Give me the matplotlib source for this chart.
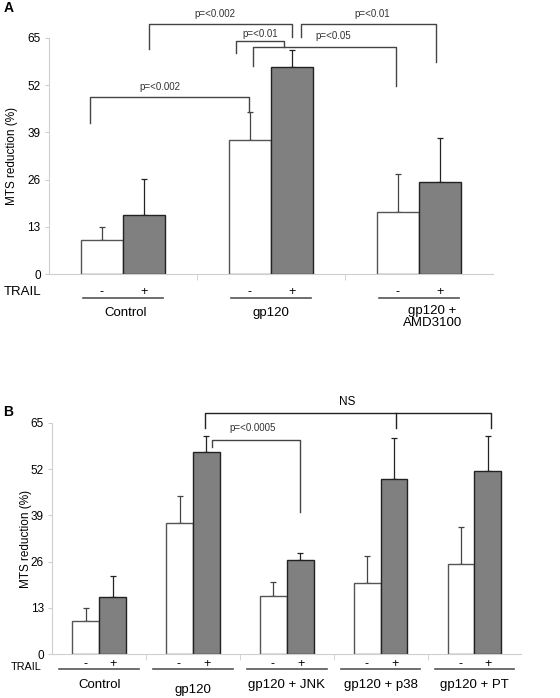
"""MTS reduction bar charts, panels A and B."""
import matplotlib
matplotlib.use("Agg")
import matplotlib.pyplot as plt
import numpy as np

plt.rcParams["font.family"] = ["Liberation Sans", "DejaVu Sans"]

# panel A data
groups_a = ["Control", "gp120", "gp120 +\nAMD3100"]
minus_a = [9.3, 37.0, 17.0]
minus_err_a = [3.6, 7.7, 10.6]
plus_a = [16.2, 56.9, 25.3]
plus_err_a = [9.9, 4.8, 12.1]
# (x_left, y_left_end, x_right, y_right_end, y_top, label)
brackets_a = [
    (-0.223, 41.6, 0.853, 44.7, 48.7, "p=<0.002"),
    (0.766, 60.7, 1.088, 62.4, 64.0, "p=<0.01"),
    (0.876, 57.1, 1.845, 51.7, 62.4, "p=<0.05"),
    (0.176, 61.8, 1.144, 65.2, 68.8, "p=<0.002"),
    (1.201, 65.2, 2.115, 58.4, 68.8, "p=<0.01"),
]
label_x_a = [0.25, 0.926, 1.417, 0.622, 1.687]
label_y_a = [51.4, 65.9, 65.5, 71.6, 71.6]

# panel B data
groups_b = ["Control", "gp120", "gp120 + JNK", "gp120 + p38", "gp120 + PT"]
minus_b = [9.3, 36.8, 16.3, 20.1, 25.3]
minus_err_b = [3.6, 7.7, 4.0, 7.5, 10.3]
plus_b = [16.1, 56.8, 26.6, 49.3, 51.5]
plus_err_b = [6.0, 4.5, 1.9, 11.3, 9.8]

yticks = [0, 13, 26, 39, 52, 65]
BAR_W = 0.285
SPINE = "#cfcfcf"


def style_axes(ax, n):
    ax.set_xlim(-0.5, n - 0.5)
    ax.set_ylim(0, 65)
    ax.set_yticks(yticks)
    ax.spines[["top", "right"]].set_visible(False)
    ax.spines["left"].set_color(SPINE)
    ax.spines["bottom"].set_color(SPINE)
    ax.set_xticks([])
    ax.set_xticks(np.arange(n - 1) + 0.5, minor=True)
    ax.tick_params(axis="x", which="minor", length=4, color=SPINE, labelbottom=False)
    ax.tick_params(axis="y", length=3, color=SPINE, labelsize=8.5, pad=3)


def draw_bars(ax, minus, minus_err, plus, plus_err):
    x = np.arange(len(minus))
    ax.bar(x - BAR_W / 2, minus, BAR_W, color="white", edgecolor="#555555", linewidth=1.0, zorder=2)
    ax.bar(x + BAR_W / 2, plus, BAR_W, color="#808080", edgecolor="#222222", linewidth=1.0, zorder=2)
    ax.errorbar(x - BAR_W / 2, minus, yerr=[np.zeros(len(x)), minus_err], fmt="none",
                ecolor="#444444", elinewidth=0.9, capsize=2.5, capthick=0.9, zorder=1)
    ax.errorbar(x + BAR_W / 2, plus, yerr=[np.zeros(len(x)), plus_err], fmt="none",
                ecolor="#222222", elinewidth=0.9, capsize=2.5, capthick=0.9, zorder=1)


def draw_trail_row(ax, n, y_sign, y_line, half, sign_off, trail_x, trail_y, fs):
    ax.text(trail_x, trail_y, "TRAIL", ha="center", va="center", fontsize=fs, clip_on=False)
    for i in range(n):
        ax.text(i - sign_off, y_sign, "-", ha="center", va="center", fontsize=9, clip_on=False)
        ax.text(i + sign_off, y_sign, "+", ha="center", va="center", fontsize=9, clip_on=False)
        ax.plot([i - half, i + half], [y_line, y_line], color="#555555", lw=1.2, clip_on=False)


def bracket(ax, x0, y0, x1, y1, ytop, color="#444444"):
    ax.plot([x0, x0, x1, x1], [y0, ytop, ytop, y1], color=color, lw=1.0, clip_on=False)


fig = plt.figure(figsize=(5.6, 6.98), dpi=100)

# ---- panel A
ax_a = fig.add_axes([0.0875, 0.607, 0.7929, 0.339])
style_axes(ax_a, len(groups_a))
draw_bars(ax_a, minus_a, minus_err_a, plus_a, plus_err_a)
for (x0, y0, x1, y1, yt, lab), lx, ly in zip(brackets_a, label_x_a, label_y_a):
    bracket(ax_a, x0, y0, x1, y1, yt)
    ax_a.text(lx, ly, lab, ha="center", va="center", fontsize=7, color="#333333", clip_on=False)
draw_trail_row(ax_a, len(groups_a), -4.9, -6.4, 0.27, 0.145, -0.676, -4.9, 9.5)
ax_a.text(0.02, -10.7, groups_a[0], ha="center", va="center", fontsize=9.5, clip_on=False)
ax_a.text(1.0, -10.7, groups_a[1], ha="center", va="center", fontsize=9.5, clip_on=False)
ax_a.text(2.09, -8.3, groups_a[2], ha="center", va="top", fontsize=9.5, linespacing=1.05, clip_on=False)
ax_a.set_ylabel("MTS reduction (%)", fontsize=8.5)
ax_a.yaxis.set_label_coords(-0.07, 0.5)
fig.text(0.006, 0.988, "A", fontsize=10, fontweight="bold", va="center")

# ---- panel B
ax_b = fig.add_axes([0.0934, 0.0626, 0.8375, 0.3318])
style_axes(ax_b, len(groups_b))
draw_bars(ax_b, minus_b, minus_err_b, plus_b, plus_err_b)
# NS bracket spanning gp120+, gp120+p38, gp120+PT
ax_b.plot([1.125, 1.125, 4.18, 4.18], [63.4, 67.6, 67.6, 63.4], color="#222222", lw=1.0, clip_on=False)
ax_b.plot([3.164, 3.164], [67.6, 63.4], color="#222222", lw=1.0, clip_on=False)
ax_b.text(2.64, 70.8, "NS", ha="center", va="center", fontsize=8.5, clip_on=False)
bracket(ax_b, 1.206, 58.2, 2.137, 40.0, 60.1)
ax_b.text(1.64, 63.4, "p=<0.0005", ha="center", va="center", fontsize=7, color="#333333", clip_on=False)
draw_trail_row(ax_b, len(groups_b), -2.8, -4.1, 0.425, 0.15, -0.78, -3.6, 7.8)
for i, g in enumerate(groups_b):
    gy = -10.1 if g == "gp120" else -8.6
    ax_b.text(i, gy, g, ha="center", va="center", fontsize=9.5, clip_on=False)
ax_b.set_ylabel("MTS reduction (%)", fontsize=8.5)
ax_b.yaxis.set_label_coords(-0.043, 0.5)
fig.text(0.006, 0.41, "B", fontsize=10, fontweight="bold", va="center")

fig.savefig("out.png", dpi=100, facecolor="white")
